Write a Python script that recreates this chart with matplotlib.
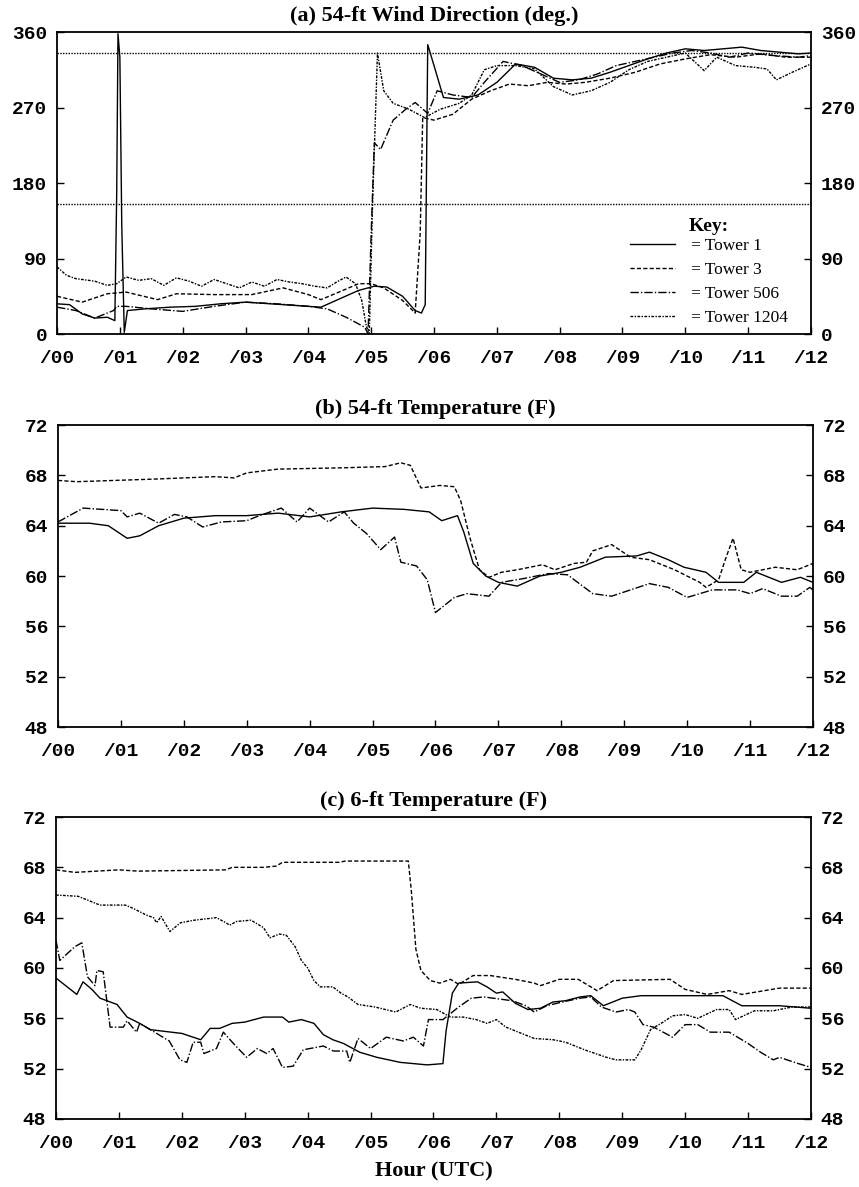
import matplotlib
matplotlib.use('Agg')
import matplotlib.pyplot as plt

# x axis: hours (UTC)
hour_ticks = [0, 1, 2, 3, 4, 5, 6, 7, 8, 9, 10, 11, 12]
hour_labels = ['/00', '/01', '/02', '/03', '/04', '/05', '/06',
               '/07', '/08', '/09', '/10', '/11', '/12']
towers = ['Tower 1', 'Tower 3', 'Tower 506', 'Tower 1204']

# (a) 54-ft wind direction, (hour, deg)
dir_t1 = [(0, 36), (0.2, 35), (0.4, 24), (0.6, 19), (0.8, 20), (0.92, 16), (0.95, 170),
          (0.97, 358), (1.0, 330), (1.03, 130), (1.07, 2), (1.12, 28), (1.4, 30), (1.8, 32),
          (2.2, 33), (2.6, 36), (3.0, 38), (3.4, 36), (3.8, 34), (4.2, 32), (4.5, 42),
          (4.8, 52), (5.05, 57), (5.25, 56), (5.5, 45), (5.7, 28), (5.8, 25), (5.86, 35),
          (5.9, 345), (6.0, 320), (6.15, 282), (6.4, 280), (6.7, 285), (7.0, 300), (7.3, 322),
          (7.6, 318), (7.9, 305), (8.2, 303), (8.5, 305), (8.8, 312), (9.1, 320), (9.4, 328),
          (9.7, 335), (10.0, 340), (10.3, 338), (10.6, 340), (10.9, 342), (11.2, 338),
          (11.5, 336), (11.8, 334), (12.0, 335)]
dir_t3 = [(0, 45), (0.4, 38), (0.8, 48), (1.1, 50), (1.6, 41), (1.9, 48), (2.5, 47), (3.1, 47),
          (3.6, 55), (4.0, 47), (4.2, 41), (4.55, 52), (4.8, 60), (5.0, 60), (5.2, 55),
          (5.5, 40), (5.7, 25), (5.78, 120), (5.82, 258), (6.0, 255), (6.3, 262), (6.6, 280),
          (6.9, 290), (7.2, 298), (7.5, 296), (7.8, 300), (8.1, 298), (8.4, 300), (8.8, 305),
          (9.2, 312), (9.6, 322), (10.0, 328), (10.4, 333), (10.8, 330), (11.2, 334),
          (11.6, 330), (12.0, 330)]
dir_t506 = [(0, 32), (0.3, 28), (0.6, 19), (0.9, 28), (0.95, 33), (1.1, 33), (1.5, 30),
            (2.0, 27), (2.5, 33), (3.0, 38), (3.5, 36), (4.0, 33), (4.3, 30), (4.6, 20),
            (4.8, 12), (4.9, 8), (4.95, 0), (5.0, 120), (5.05, 228), (5.15, 220), (5.35, 255),
            (5.55, 268), (5.7, 276), (5.9, 263), (6.05, 290), (6.3, 285), (6.6, 282),
            (6.8, 300), (7.1, 325), (7.4, 320), (7.7, 310), (8.0, 300), (8.3, 303), (8.6, 310),
            (8.9, 320), (9.2, 325), (9.5, 330), (9.8, 335), (10.1, 338), (10.4, 335),
            (10.7, 330), (11.0, 335), (11.4, 332), (11.8, 330), (12.0, 332)]
dir_t1204 = [(0, 80), (0.15, 70), (0.3, 66), (0.6, 63), (0.8, 58), (0.95, 60), (1.1, 68),
             (1.3, 64), (1.5, 66), (1.7, 58), (1.9, 67), (2.1, 63), (2.3, 57), (2.5, 65),
             (2.7, 60), (2.9, 55), (3.1, 62), (3.3, 57), (3.5, 65), (3.7, 62), (3.9, 60),
             (4.1, 57), (4.3, 55), (4.45, 62), (4.6, 68), (4.75, 60), (4.85, 40), (4.92, 10),
             (4.97, 0), (5.02, 150), (5.1, 335), (5.2, 290), (5.35, 275), (5.6, 268),
             (5.85, 258), (6.1, 268), (6.4, 275), (6.6, 285), (6.8, 315), (7.0, 320),
             (7.3, 320), (7.6, 316), (7.9, 295), (8.2, 285), (8.5, 290), (8.8, 300),
             (9.1, 315), (9.4, 325), (9.7, 330), (10.0, 335), (10.3, 314), (10.5, 330),
             (10.8, 320), (11.1, 318), (11.3, 316), (11.45, 303), (11.7, 312), (12.0, 322)]
ref_dirs = [335, 155]

# (b) 54-ft temperature, (hour, F)
t54_t1 = [(0, 64.2), (0.5, 64.2), (0.8, 64.0), (1.1, 63.0), (1.3, 63.2), (1.6, 64.0),
          (2.0, 64.6), (2.5, 64.8), (3.0, 64.8), (3.5, 65.0), (4.0, 64.7), (4.5, 65.1),
          (5.0, 65.4), (5.5, 65.3), (5.9, 65.1), (6.1, 64.4), (6.35, 64.8), (6.45, 63.5),
          (6.6, 61.0), (6.8, 60.0), (7.0, 59.5), (7.3, 59.2), (7.66, 60.0), (8.0, 60.3),
          (8.3, 60.7), (8.7, 61.5), (9.2, 61.6), (9.4, 61.9), (9.7, 61.3), (9.95, 60.7),
          (10.3, 60.3), (10.5, 59.5), (10.9, 59.5), (11.1, 60.3), (11.5, 59.5), (11.8, 59.9),
          (12.0, 59.5)]
t54_t3 = [(0, 67.6), (0.3, 67.5), (1.5, 67.7), (2.5, 67.9), (2.8, 67.8), (3.0, 68.2),
          (3.5, 68.5), (4.5, 68.6), (5.2, 68.7), (5.45, 69.0), (5.6, 68.8), (5.77, 67.0),
          (6.07, 67.2), (6.3, 67.1), (6.4, 66.0), (6.55, 63.0), (6.7, 60.5), (6.85, 59.9),
          (7.05, 60.3), (7.3, 60.5), (7.7, 60.9), (7.9, 60.5), (8.2, 61.0), (8.4, 61.1),
          (8.5, 62.0), (8.8, 62.5), (9.1, 61.5), (9.4, 61.3), (9.8, 60.5), (10.2, 59.5),
          (10.3, 59.1), (10.5, 59.7), (10.62, 61.5), (10.73, 63.0), (10.86, 60.5),
          (11.0, 60.3), (11.4, 60.7), (11.75, 60.5), (12.0, 61.0)]
t54_t506 = [(0, 64.3), (0.4, 65.4), (1.0, 65.2), (1.1, 64.7), (1.3, 65.0), (1.6, 64.2),
            (1.85, 64.9), (2.05, 64.7), (2.3, 63.9), (2.6, 64.3), (3.0, 64.4), (3.2, 64.8),
            (3.55, 65.4), (3.8, 64.3), (4.0, 65.4), (4.3, 64.3), (4.55, 65.1), (4.7, 64.2),
            (4.9, 63.4), (5.13, 62.1), (5.35, 63.1), (5.45, 61.1), (5.7, 60.8), (5.87, 59.7),
            (6.0, 57.1), (6.3, 58.3), (6.5, 58.6), (6.85, 58.4), (7.05, 59.5), (7.4, 59.8),
            (7.8, 60.2), (8.1, 60.1), (8.5, 58.6), (8.8, 58.4), (9.1, 58.9), (9.4, 59.4),
            (9.7, 59.1), (10.0, 58.3), (10.4, 58.9), (10.8, 58.9), (11.0, 58.6), (11.2, 59.0),
            (11.5, 58.4), (11.75, 58.4), (11.95, 59.1), (12.0, 58.9)]

# (c) 6-ft temperature, (hour, F)
t6_t1 = [(0, 59.2), (0.33, 57.9), (0.43, 58.9), (0.57, 58.3), (0.7, 57.6), (0.97, 57.1),
         (1.13, 56.1), (1.33, 55.6), (1.5, 55.1), (2.0, 54.8), (2.3, 54.3), (2.45, 55.2),
         (2.6, 55.2), (2.8, 55.6), (3.0, 55.7), (3.3, 56.1), (3.6, 56.1), (3.7, 55.7),
         (3.9, 55.9), (4.1, 55.6), (4.25, 54.7), (4.4, 54.3), (4.57, 54.0), (4.83, 53.3),
         (5.1, 52.9), (5.47, 52.5), (5.9, 52.3), (6.15, 52.4), (6.2, 55.0), (6.3, 58.0),
         (6.4, 58.8), (6.7, 58.9), (6.85, 58.5), (7.0, 58.0), (7.1, 58.1), (7.3, 57.2),
         (7.5, 56.7), (7.7, 56.8), (7.9, 57.3), (8.1, 57.4), (8.33, 57.7), (8.5, 57.8),
         (8.7, 57.0), (9.0, 57.6), (9.3, 57.8), (10.0, 57.8), (10.6, 57.8), (10.9, 57.0),
         (11.5, 57.0), (12.0, 56.8)]
t6_t3 = [(0, 67.8), (0.3, 67.6), (1.0, 67.8), (1.3, 67.7), (2.7, 67.8), (2.8, 68.0),
         (3.3, 68.0), (3.5, 68.1), (3.6, 68.4), (4.5, 68.4), (4.6, 68.5), (5.6, 68.5),
         (5.65, 66.0), (5.72, 61.5), (5.8, 59.8), (5.95, 59.0), (6.1, 58.8), (6.27, 59.1),
         (6.4, 58.7), (6.63, 59.4), (6.9, 59.4), (7.3, 59.1), (7.6, 58.8), (7.7, 58.6),
         (8.0, 59.1), (8.3, 59.1), (8.4, 58.8), (8.6, 58.2), (8.86, 59.0), (9.76, 59.1),
         (10.0, 58.3), (10.35, 57.9), (10.7, 58.2), (10.9, 57.9), (11.5, 58.4), (12.0, 58.4)]
t6_t506 = [(0, 62.2), (0.06, 60.6), (0.3, 61.7), (0.41, 62.0), (0.5, 59.3), (0.62, 58.6),
           (0.65, 59.8), (0.75, 59.7), (0.86, 55.3), (1.07, 55.3), (1.13, 55.8), (1.28, 54.9),
           (1.33, 55.6), (1.5, 55.1), (1.7, 54.5), (1.8, 54.2), (1.97, 52.7), (2.08, 52.5),
           (2.18, 54.1), (2.3, 54.1), (2.35, 53.2), (2.55, 53.6), (2.66, 54.9), (2.82, 54.0),
           (3.03, 52.9), (3.2, 53.6), (3.35, 53.2), (3.45, 53.6), (3.6, 52.1), (3.77, 52.2),
           (3.93, 53.5), (4.25, 53.8), (4.41, 53.4), (4.62, 53.4), (4.67, 52.5), (4.8, 54.4),
           (5.0, 53.6), (5.25, 54.5), (5.52, 54.2), (5.68, 54.5), (5.84, 53.8), (5.92, 55.9),
           (6.15, 55.9), (6.4, 56.9), (6.6, 57.6), (6.8, 57.7), (7.25, 57.4), (7.47, 57.0),
           (7.6, 56.5), (7.8, 57.0), (8.05, 57.3), (8.33, 57.6), (8.5, 57.7), (8.67, 56.9),
           (8.9, 56.5), (9.1, 56.7), (9.2, 56.5), (9.33, 55.5), (9.5, 55.3), (9.8, 54.5),
           (10.0, 55.5), (10.2, 55.5), (10.4, 54.9), (10.7, 54.9), (11.0, 54.0), (11.2, 53.3),
           (11.4, 52.7), (11.5, 52.9), (11.8, 52.4), (12.0, 52.1)]
t6_t1204 = [(0, 65.8), (0.35, 65.7), (0.5, 65.4), (0.7, 65.0), (1.1, 65.0), (1.2, 64.8),
            (1.44, 64.2), (1.55, 64.0), (1.6, 63.6), (1.67, 64.1), (1.81, 62.9), (1.98, 63.6),
            (2.2, 63.8), (2.55, 64.0), (2.7, 63.6), (2.76, 63.4), (2.87, 63.7), (3.1, 63.8),
            (3.3, 63.2), (3.4, 62.4), (3.55, 62.7), (3.66, 62.6), (3.8, 61.7), (3.9, 60.6),
            (4.0, 60.0), (4.1, 59.0), (4.2, 58.5), (4.4, 58.5), (4.53, 58.0), (4.64, 57.7),
            (4.8, 57.1), (5.07, 56.9), (5.4, 56.5), (5.63, 57.1), (5.8, 56.8), (6.05, 56.7),
            (6.27, 56.1), (6.47, 56.1), (6.68, 55.9), (6.85, 55.6), (7.0, 55.9), (7.15, 55.3),
            (7.4, 54.8), (7.6, 54.4), (7.9, 54.3), (8.1, 54.1), (8.4, 53.5), (8.75, 52.9),
            (8.9, 52.7), (9.2, 52.7), (9.3, 53.5), (9.45, 55.1), (9.65, 55.7), (9.8, 56.2),
            (10.0, 56.3), (10.2, 56.0), (10.5, 56.7), (10.7, 56.7), (10.8, 55.9), (11.1, 56.6),
            (11.4, 56.6), (11.7, 56.9), (12.0, 56.9)]

# line style for each tower
styles = {
    'Tower 1': '-',
    'Tower 3': (0, (3, 1.6)),
    'Tower 506': (0, (6, 1.5, 1, 1.5)),
    'Tower 1204': (0, (2, 1, 1, 1)),
}

mono = {'family': 'Liberation Mono', 'weight': 'bold', 'size': 14}
serif_b = {'family': 'Liberation Serif', 'weight': 'bold', 'size': 16}

fig = plt.figure(figsize=(8.59, 11.87), dpi=100)


def setup_axes(rect, ylim, yticks, title):
    ax = fig.add_axes(rect)
    ax.set_xlim(0, 12)
    ax.set_ylim(*ylim)
    ax.set_xticks(hour_ticks)
    ax.set_xticklabels(hour_labels, fontdict=mono)
    ax.set_yticks(yticks)
    ax.set_yticklabels([str(v) for v in yticks], fontdict=mono)
    ax.tick_params(axis='x', direction='in', length=5, width=1, pad=11.5, top=False)
    ax.tick_params(axis='y', direction='in', length=5, width=1, pad=7,
                   left=True, right=True, labelleft=True, labelright=True)
    for s in ax.spines.values():
        s.set_linewidth(1.3)
    ax.set_title(title, fontdict=serif_b, pad=8)
    return ax


def draw(ax, series, names):
    handles = []
    for pts, name in zip(series, names):
        t, v = zip(*pts)
        h, = ax.plot(t, v, color='black', lw=1.0, linestyle=styles[name],
                     label='= ' + name)
        handles.append(h)
    return handles


# panel (a)
ax_a = setup_axes([0.0664, 0.7186, 0.8777, 0.2544], (0, 360), [0, 90, 180, 270, 360],
                  '(a) 54-ft Wind Direction (deg.)')
for r in ref_dirs:
    ax_a.axhline(r, color='black', lw=1.0, linestyle=(0, (1, 1)))
hs = draw(ax_a, [dir_t1, dir_t3, dir_t506, dir_t1204], towers)
leg = ax_a.legend(handles=hs, loc='lower right', bbox_to_anchor=(0.99, -0.025),
                  frameon=False, title='Key:', handlelength=2.6, handletextpad=0.9,
                  labelspacing=0.45, prop={'family': 'Liberation Serif', 'size': 12.5})
leg.get_title().set_fontproperties({'family': 'Liberation Serif', 'weight': 'bold', 'size': 14})
leg._legend_box.sep = 2

# panel (b)
ax_b = setup_axes([0.0675, 0.3875, 0.8789, 0.2544], (48, 72), [48, 52, 56, 60, 64, 68, 72],
                  '(b) 54-ft Temperature (F)')
draw(ax_b, [t54_t1, t54_t3, t54_t506], towers[:3])

# panel (c)
ax_c = setup_axes([0.0652, 0.0573, 0.8789, 0.2544], (48, 72), [48, 52, 56, 60, 64, 68, 72],
                  '(c) 6-ft Temperature (F)')
draw(ax_c, [t6_t1, t6_t3, t6_t506, t6_t1204], towers)
ax_c.set_xlabel('Hour (UTC)', fontdict=serif_b, labelpad=7)

fig.savefig('out.png', dpi=100)
